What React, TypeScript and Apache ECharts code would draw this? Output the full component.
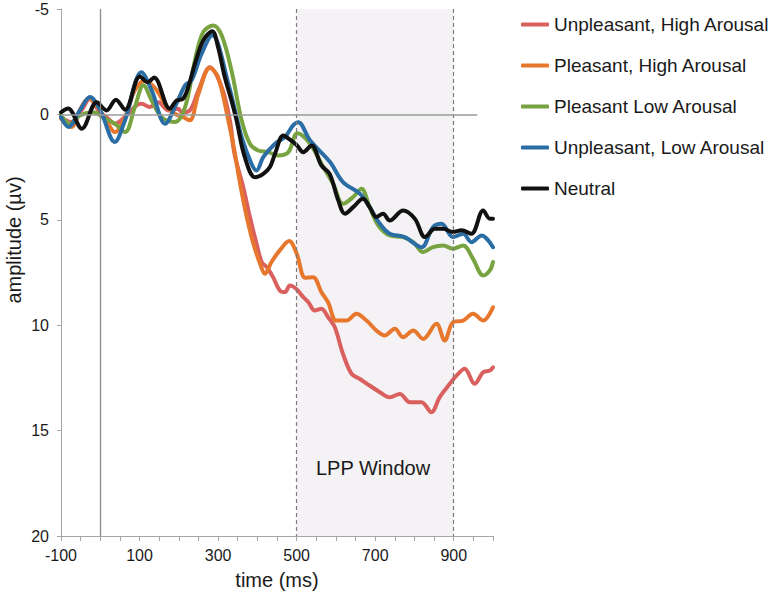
import React, { useEffect, useRef } from "react";
import * as echarts from "echarts";

const seriesNames = [
  "Unpleasant, High Arousal",
  "Pleasant, High Arousal",
  "Pleasant Low Arousal",
  "Unpleasant, Low Arousal",
  "Neutral",
];
const seriesColors = ["#d9605e", "#e8772e", "#77a440", "#2b6ea6", "#111111"];

const xTickLabels = [-100, 100, 300, 500, 700, 900];
const yTickLabels = [-5, 0, 5, 10, 15, 20];
const yAxisTitle = "amplitude (µv)";
const xAxisTitle = "time (ms)";

const redTimes = [-100, -74, -48, -26, -5, 20, 37, 67, 92, 105, 126, 148, 173, 199, 207, 228, 250, 279, 309, 330, 342, 364, 381, 398, 411, 424, 440, 457, 470, 483, 500, 517, 530, 546, 563, 580, 597, 618, 640, 661, 686, 712, 737, 763, 788, 818, 843, 864, 890, 907, 928, 953, 975, 992, 1000];
const redValues = [0.13, 0.36, -0.19, -0.75, -0.19, 0.2, 0.44, 0.05, -0.43, -0.51, -0.35, -0.58, -0.19, -0.27, -0.1, -0.19, -1.14, -2.24, -1.3, 0.28, 1.9, 3.45, 4.87, 6.14, 7.0, 7.25, 7.72, 8.35, 8.43, 8.12, 8.3, 8.67, 8.91, 9.3, 9.22, 9.62, 10.09, 11.36, 12.31, 12.55, 12.86, 13.18, 13.42, 13.26, 13.65, 13.65, 14.13, 13.42, 12.78, 12.39, 12.07, 12.78, 12.23, 12.15, 12.0];

const orangeTimes = [-100, -74, -48, -30, -5, 20, 37, 63, 88, 114, 144, 169, 190, 211, 228, 250, 279, 300, 326, 343, 356, 373, 390, 407, 419, 436, 457, 481, 500, 522, 542, 563, 580, 601, 627, 652, 678, 703, 724, 750, 771, 797, 822, 856, 877, 898, 924, 949, 975, 1000];
const orangeValues = [0.2, 0.6, -0.35, -0.75, -0.27, 0.44, 0.84, 0.13, -1.14, -1.61, -1.14, -0.35, -0.03, 0.13, 0.28, -0.98, -2.2, -1.77, 0.28, 1.87, 3.29, 4.87, 6.14, 7.09, 7.56, 7.0, 6.45, 6.01, 6.6, 7.75, 7.72, 8.43, 8.91, 9.78, 9.78, 9.46, 9.78, 10.25, 10.49, 10.17, 10.57, 10.25, 10.65, 9.93, 10.73, 9.86, 9.78, 9.46, 9.78, 9.15];

const greenTimes = [-100, -77, -52, -19, 12, 37, 63, 88, 110, 131, 156, 190, 216, 241, 262, 288, 309, 334, 360, 381, 402, 428, 453, 479, 502, 534, 568, 593, 618, 644, 665, 686, 708, 737, 771, 797, 822, 847, 873, 898, 924, 949, 975, 992, 1000];
const greenValues = [0.05, 0.44, 0.05, -0.1, 0.2, 0.44, 0.84, -0.35, -1.38, -0.66, 0.13, 0.36, -0.35, -2.56, -3.9, -4.22, -3.75, -2.09, 0.28, 1.39, 1.71, 1.79, 1.95, 1.79, 0.9, 1.39, 2.5, 3.29, 4.24, 3.92, 3.53, 4.4, 5.27, 5.74, 5.82, 6.06, 6.53, 6.3, 6.22, 6.37, 6.22, 6.85, 7.64, 7.4, 7.0];

const blueTimes = [-100, -81, -52, -26, 0, 37, 63, 105, 131, 165, 194, 216, 233, 258, 285, 326, 360, 385, 398, 415, 445, 470, 491, 504, 534, 585, 618, 661, 686, 712, 737, 775, 818, 847, 869, 898, 924, 945, 971, 1000];
const blueValues = [0.13, 0.6, -0.19, -0.82, -0.19, 1.31, 0.28, -2.0, -1.14, 0.44, -0.51, -1.38, -1.63, -2.88, -3.75, -1.46, 1.08, 2.34, 2.66, 2.03, 1.39, 1.08, 0.52, 0.37, 1.23, 2.26, 3.21, 3.76, 4.4, 5.19, 5.66, 5.82, 6.3, 5.35, 5.19, 5.82, 5.66, 6.06, 5.74, 6.3];

const blackTimes = [-100, -82, -47, -9, 16, 40, 63, 101, 121, 137, 177, 194, 211, 224, 241, 262, 285, 300, 317, 334, 347, 368, 394, 415, 432, 445, 466, 483, 500, 517, 538, 563, 584, 606, 623, 644, 669, 686, 703, 720, 737, 771, 801, 827, 852, 873, 898, 920, 945, 975, 992, 1000];
const blackValues = [-0.1, -0.28, 0.68, -0.58, -0.19, -0.7, -0.22, -1.8, -1.53, -1.75, -0.27, -0.66, -0.75, -1.3, -2.4, -3.5, -3.95, -3.19, -1.77, -0.66, 0.28, 2.03, 2.98, 2.82, 2.5, 1.87, 1.0, 1.2, 1.45, 1.79, 1.47, 2.42, 2.82, 4.08, 4.71, 4.4, 4.0, 4.4, 4.87, 4.71, 5.03, 4.56, 4.95, 5.82, 5.43, 5.43, 5.58, 5.5, 5.66, 4.56, 4.95, 4.95];

const allTimes = [redTimes, orangeTimes, greenTimes, blueTimes, blackTimes];
const allValues = [redValues, orangeValues, greenValues, blueValues, blackValues];

const windowStart = 500;
const windowEnd = 900;
const windowLabel = "LPP Window";

const FONT = "'Liberation Sans', Arial, Helvetica, sans-serif";

export default function App() {
  const ref = useRef<HTMLDivElement>(null);

  useEffect(() => {
    if (!ref.current) return;
    const chart = echarts.init(ref.current, undefined, { renderer: "svg" });

    const dataSeries = seriesNames.map((name, i) => ({
      name,
      type: "line",
      z: 3,
      data: allTimes[i].map((t, j) => [t, allValues[i][j]]),
      smooth: 0.35,
      symbol: "none",
      showSymbol: false,
      lineStyle: { color: seriesColors[i], width: 4, cap: "round", join: "round" },
      itemStyle: { color: seriesColors[i] },
    }));

    const helper = {
      name: "helper",
      type: "line",
      z: 1,
      data: [],
      silent: true,
      symbol: "none",
      markArea: {
        silent: true,
        itemStyle: { color: "#f4f2f4" },
        data: [[{ xAxis: windowStart }, { xAxis: windowEnd }]],
      },
      markLine: {
        silent: true,
        symbol: ["none", "none"],
        label: { show: false },
        animation: false,
        data: [
          { xAxis: windowStart, lineStyle: { type: [4, 3], color: "#7a7a7a", width: 1.2 } },
          { xAxis: windowEnd, lineStyle: { type: [4, 3], color: "#7a7a7a", width: 1.2 } },
          { xAxis: 0, lineStyle: { type: "solid", color: "#8a8a8a", width: 1.3 } },
          [
            { coord: [-100, 0], lineStyle: { type: "solid", color: "#9a9a9a", width: 1.5 } },
            { coord: [960, 0] },
          ],
        ],
      },
    };

    chart.setOption({
      animation: false,
      backgroundColor: "#ffffff",
      textStyle: { fontFamily: FONT },
      grid: {
        left: 61,
        top: 9,
        width: 432,
        height: 527,
        containLabel: false,
        outerBoundsMode: "none",
      },
      legend: {
        data: seriesNames,
        orient: "vertical",
        left: 516,
        top: 10,
        itemWidth: 28,
        itemHeight: 4,
        itemGap: 22,
        icon: "roundRect",
        selectedMode: false,
        textStyle: { fontSize: 19, color: "#1a1a1a", fontFamily: FONT },
      },
      xAxis: {
        type: "value",
        min: -100,
        max: 1000,
        interval: 50,
        name: xAxisTitle,
        nameLocation: "middle",
        nameGap: 34,
        nameTextStyle: { fontSize: 20, color: "#1a1a1a", fontFamily: FONT },
        axisLine: { show: true, onZero: false, lineStyle: { color: "#a6a6a6", width: 1 } },
        axisTick: { show: true, length: 5, lineStyle: { color: "#a6a6a6" } },
        splitLine: { show: false },
        axisLabel: {
          fontSize: 16,
          color: "#1a1a1a",
          margin: 11,
          fontFamily: FONT,
          formatter: (v: number) => (xTickLabels.includes(v) ? String(v) : ""),
        },
      },
      yAxis: {
        type: "value",
        inverse: true,
        min: yTickLabels[0],
        max: yTickLabels[yTickLabels.length - 1],
        interval: 5,
        axisLine: { show: true, onZero: false, lineStyle: { color: "#a6a6a6", width: 1 } },
        axisTick: { show: true, length: 4, lineStyle: { color: "#a6a6a6" } },
        splitLine: { show: false },
        axisLabel: { fontSize: 16, color: "#1a1a1a", margin: 12, fontFamily: FONT },
      },
      graphic: [
        {
          type: "text",
          x: 373,
          y: 468,
          style: {
            text: windowLabel,
            fontSize: 20,
            fontFamily: FONT,
            fill: "#1a1a1a",
            textAlign: "center",
            textVerticalAlign: "middle",
          },
          z: 10,
        },
        {
          type: "text",
          x: 14,
          y: 240,
          rotation: Math.PI / 2,
          style: {
            text: yAxisTitle,
            fontSize: 20,
            fontFamily: FONT,
            fill: "#1a1a1a",
            textAlign: "center",
            textVerticalAlign: "middle",
          },
          z: 10,
        },
      ],
      series: [helper, ...dataSeries],
    });

    return () => chart.dispose();
  }, []);

  return (
    <div
      ref={ref}
      style={{ position: "fixed", left: 0, top: 0, width: 771, height: 598, background: "#fff" }}
    />
  );
}
